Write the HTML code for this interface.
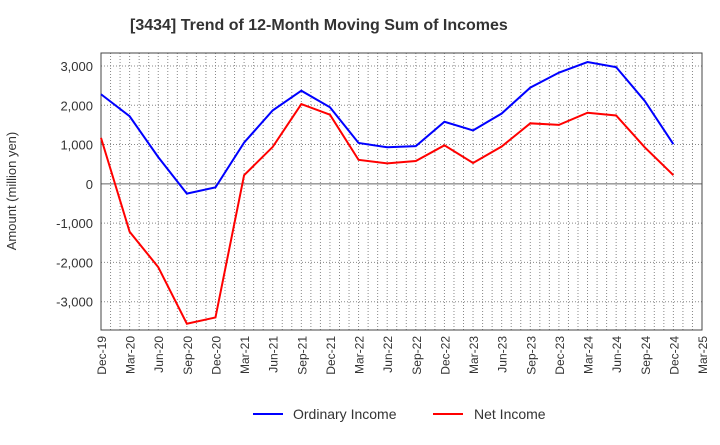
<!DOCTYPE html>
<html><head><meta charset="utf-8"><style>
body{margin:0;background:#fff;font-family:"Liberation Sans",sans-serif}
svg text{font-family:"Liberation Sans",sans-serif;fill:#333}
</style></head><body>
<svg id="c" width="720" height="440">
<text x="130" y="30" font-size="16" font-weight="bold">[3434]  Trend of 12-Month Moving Sum of Incomes</text>
<text transform="translate(16,191) rotate(-90)" font-size="13" text-anchor="middle">Amount (million yen)</text>
<g id="grid"></g><g id="axes"></g><g id="series"></g>
<g>
<line x1="253" y1="414" x2="283" y2="414" stroke="#0000ff" stroke-width="2"/>
<text x="293" y="419" font-size="14">Ordinary Income</text>
<line x1="433" y1="414" x2="463" y2="414" stroke="#ff0000" stroke-width="2"/>
<text x="474" y="419" font-size="14">Net Income</text>
</g>
</svg>
<script>
const categories=["Dec-19","Mar-20","Jun-20","Sep-20","Dec-20","Mar-21","Jun-21","Sep-21","Dec-21","Mar-22","Jun-22","Sep-22","Dec-22","Mar-23","Jun-23","Sep-23","Dec-23","Mar-24","Jun-24","Sep-24","Dec-24","Mar-25"];
const ordinaryIncome=[2280,1720,680,-250,-90,1050,1870,2370,1950,1040,930,960,1580,1360,1790,2450,2830,3100,2970,2110,1010];
const netIncome=[1170,-1220,-2120,-3560,-3400,220,940,2030,1760,610,520,580,980,530,950,1540,1500,1810,1740,930,220];
const yTicks=[3000,2000,1000,0,-1000,-2000,-3000];
const NS="http://www.w3.org/2000/svg";
const L=101,R=702,T=53,B=330,yMax=3330,yMin=-3720;
const x=i=>L+i*(R-L)/(categories.length-1);
const y=v=>T+(yMax-v)/(yMax-yMin)*(B-T);
function mk(t,a,p){const e=document.createElementNS(NS,t);for(const k in a)e.setAttribute(k,a[k]);p.appendChild(e);return e;}
const grid=document.getElementById('grid'),axes=document.getElementById('axes'),ser=document.getElementById('series');
for(let m=0;m<=63;m++){const xx=L+m*(R-L)/63;const g=mk('line',{x1:xx,x2:xx,y1:T,y2:B,stroke:'#888','stroke-dasharray':'1,2','stroke-width':1},grid);

}
yTicks.forEach(v=>{const g=mk('line',{x1:L,x2:R,y1:y(v),y2:y(v),stroke:v===0?'#666':'#888','stroke-dasharray':v===0?'':'1,2','stroke-width':1},grid);


const t=mk('text',{x:L-8,y:y(v)+5,'font-size':13,'text-anchor':'end'},axes);t.textContent=v.toLocaleString('en-US');

});
const fr=mk('rect',{x:L,y:T,width:R-L,height:B-T,fill:'none',stroke:'#444'},axes);


categories.forEach((c,i)=>{const t=mk('text',{transform:`translate(${x(i)+5},${B+6}) rotate(-90)`,'font-size':12,'text-anchor':'end'},axes);t.textContent=c;

});
function line(d,col,name){const p=mk('polyline',{points:d.map((v,i)=>x(i)+','+y(v)).join(' '),fill:'none',stroke:col,'stroke-width':2},ser);

}
line(ordinaryIncome,'#0000ff','ordinary-income-line');
line(netIncome,'#ff0000','net-income-line');
</script>
</body></html>
